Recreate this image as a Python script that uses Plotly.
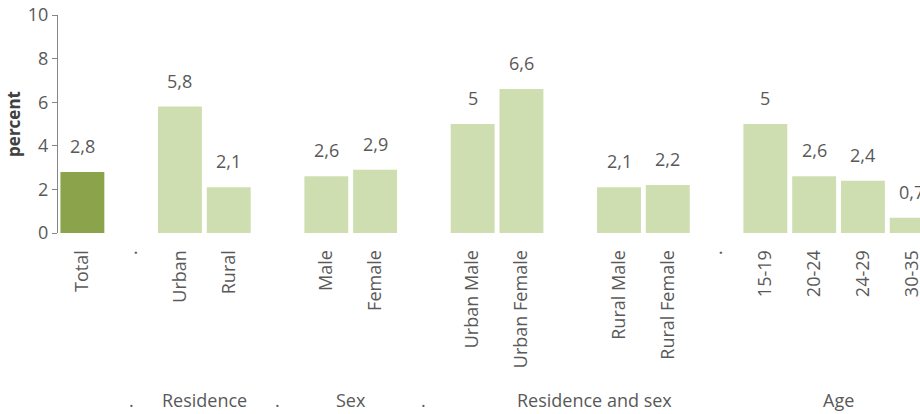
import plotly.graph_objects as go

categories = ["Total", ".", "Urban", "Rural", "", "Male", "Female", "", "Urban Male", "Urban Female",
              "", "Rural Male", "Rural Female", ".", "15-19", "20-24", "24-29", "30-35"]
values = [2.8, None, 5.8, 2.1, None, 2.6, 2.9, None, 5.0, 6.6,
          None, 2.1, 2.2, None, 5.0, 2.6, 2.4, 0.7]
groups = [".", "Residence", ".", "Sex", ".", "Residence and sex", "Age"]
group_pos = [1, 2.5, 4, 5.5, 7, 10.5, 15.5]
y_ticks = [0, 2, 4, 6, 8, 10]

DARK = "#8BA34B"
LIGHT = "#CFDEB0"
GREY = "#595959"
FONT = "Open Sans"

xs = list(range(len(categories)))
bx = [x for x, v in zip(xs, values) if v is not None]
by = [v for v in values if v is not None]
colors = [DARK if categories[x] == "Total" else LIGHT for x in bx]

def fmt(v):
    s = ("%g" % v).replace(".", ",")
    return s

fig = go.Figure()
fig.add_trace(go.Bar(x=bx, y=by, width=0.9, marker=dict(color=colors, line=dict(width=0)),
                     hoverinfo="skip", cliponaxis=False))

annotations = []
for x, v in zip(bx, by):
    annotations.append(dict(x=x, y=v, xref="x", yref="y", text=fmt(v), showarrow=False,
                            yanchor="bottom", yshift=12, font=dict(family=FONT, size=18, color=GREY)))
for g, p in zip(groups, group_pos):
    annotations.append(dict(x=p, y=-0.766, xref="x", yref="paper", text=g, showarrow=False,
                            yanchor="middle", font=dict(family=FONT, size=18, color=GREY)))

fig.update_layout(
    width=920, height=414,
    margin=dict(l=58, r=0, t=15, b=181),
    paper_bgcolor="white", plot_bgcolor="white",
    showlegend=False,
    annotations=annotations,
    font=dict(family=FONT, color=GREY, size=18),
    xaxis=dict(range=[-0.5, 17.17], tickmode="array", tickvals=xs, ticktext=categories,
               tickangle=-90, showgrid=False, zeroline=False, showline=False,
               ticks="outside", ticklen=9, tickcolor="rgba(0,0,0,0)",
               automargin=False, ticklabeloverflow="allow",
               tickfont=dict(family=FONT, size=18, color=GREY)),
    yaxis=dict(range=[0, 10], tickmode="array", tickvals=y_ticks, showgrid=False, zeroline=False,
               showline=True, linecolor="#868686", linewidth=1, ticks="outside", ticklen=5,
               tickcolor="#868686", tickfont=dict(family=FONT, size=18, color=GREY),
               automargin=False, ticklabeloverflow="allow",
               title=dict(text="<b>percent</b>", font=dict(family=FONT, size=17, color="#404040"),
                          standoff=2)),
)
fig.write_html("out.html", config={"displayModeBar": False},
               post_script="document.body.style.margin='0';document.body.style.overflow='hidden';")
